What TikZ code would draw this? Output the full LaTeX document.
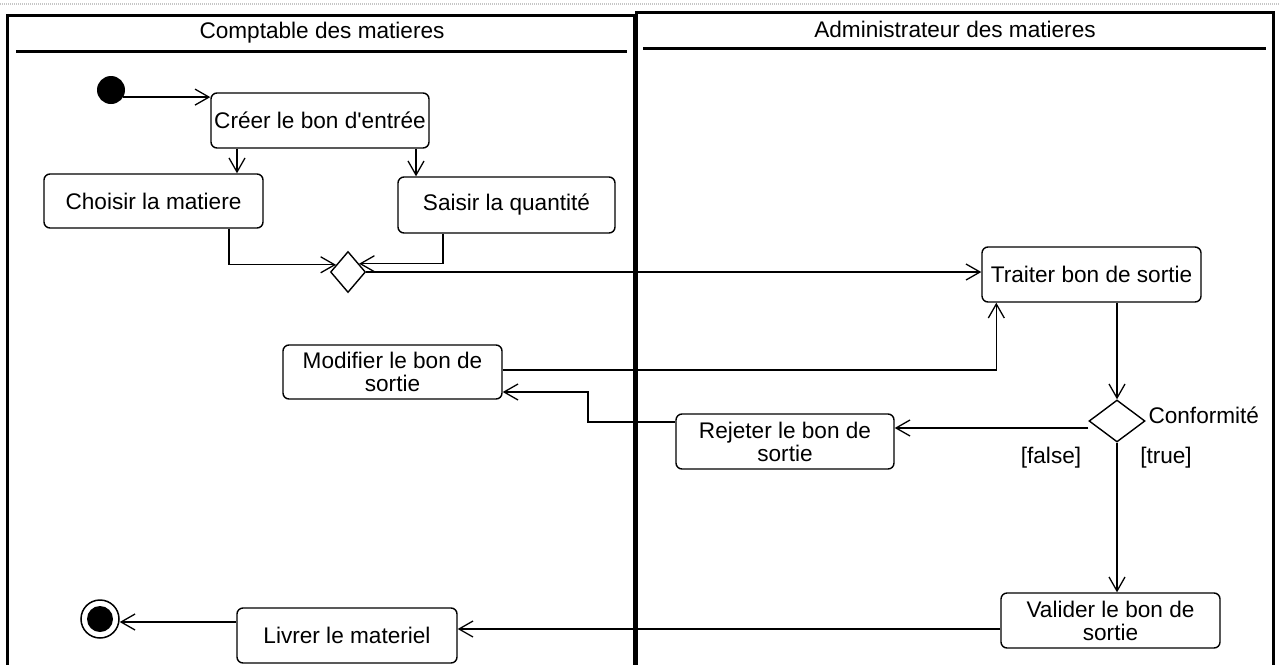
\documentclass[tikz,border=0pt]{standalone}
\usepackage{fontspec}
\newfontfamily\labelfont{Liberation Sans}
\usetikzlibrary{arrows.meta,shapes.geometric,calc}
\begin{document}
\begin{tikzpicture}[x=1pt,y=-1pt,
  font=\labelfont\fontsize{22.6}{23}\selectfont,
  lane/.style={draw,line width=3pt},
  action/.style={draw,line width=1.4pt,rounded corners=6pt,inner sep=0pt,
    minimum width=219pt,minimum height=55pt,align=center},
  branch/.style={draw,diamond,line width=1.4pt,inner sep=0pt},
  flow/.style={draw,line width=1.3pt,
    -{Straight Barb[length=14pt,width=16pt,line width=1.3pt]}},
  startdot/.style={circle,fill=black,inner sep=0pt,minimum size=28pt},
  endring/.style={circle,draw,line width=1.5pt,inner sep=0pt,minimum size=38pt},
  enddot/.style={circle,fill=black,inner sep=0pt,minimum size=26pt}]
\useasboundingbox (0,0) rectangle (1279,664);

% window edge
\draw[gray!45,line width=1.5pt,dash pattern=on 1pt off 1pt] (0,4) -- (1279,4);

% swimlanes
\draw[lane] (7,668) -- (7,15) -- (634,15) -- (634,668);
\draw[lane] (16,51) -- (627,51);
\node (laneA) at (322,33) {Comptable des matieres};
\draw[lane] (636,668) -- (636,12) -- (1273,12) -- (1273,668);
\draw[lane] (643,48) -- (1266,48);
\node (laneB) at (955,29) {Administrateur des matieres};

% activities
\node[startdot] (init) at (111,90) {};
\node[action,minimum width=218pt] (cree) at (320,120.5) {Créer le bon d'entrée};
\node[action,minimum height=54pt] (choisir) at (153.5,201) {Choisir la matiere};
\node[action,minimum width=217pt,minimum height=56pt] (saisir) at (506.5,205) {Saisir la quantité};
\node[branch,minimum width=35pt,minimum height=41pt] (merge) at (348,272) {};
\node[action] (traiter) at (1091.5,274.5) {Traiter bon de sortie};
\node[action,minimum height=54pt] (modifier) at (392.5,372) {Modifier le bon de\\sortie};
\node[branch,minimum width=56pt,minimum height=42pt] (conf) at (1117,421) {};
\node[anchor=west] (conflabel) at (1145,415) {Conformité};
\node (lfalse) at (1051,458) {[false]};
\node (ltrue) at (1166,458) {[true]};
\node[action,minimum width=218pt] (rejeter) at (785,441.5) {Rejeter le bon de\\sortie};
\node[action] (valider) at (1110.5,620.5) {Valider le bon de\\sortie};
\node[action,minimum width=220pt] (livrer) at (347,635.5) {Livrer le materiel};
\node[endring] (final) at (100,619) {};
\node[enddot] (finaldot) at (final) {};

% control flow
\draw[flow] (init.-30) -- (init.-30 -| cree.west);
\draw[flow] ([xshift=-83pt]cree.south) -- ([xshift=-83pt]cree.south |- choisir.north);
\draw[flow] ([xshift=96pt]cree.south) -- ([xshift=96pt]cree.south |- saisir.north);
\draw[flow] ([xshift=75.5pt]choisir.south) |- ($(merge.west)!0.34!(merge.north)$);
\draw[flow] ([xshift=-63.5pt]saisir.south) |- ($(merge.east)!0.39!(merge.north)$);
\draw[flow] (merge.east) -- (merge.east -| traiter.west);
\draw[flow] ([yshift=2pt]modifier.east) -| ([xshift=15pt]traiter.south west);
\draw[flow] (conf.north |- traiter.south) -- (conf.north);
\draw[flow] ([yshift=-7pt]conf.west) -- ([yshift=-7pt]conf.west -| rejeter.east);
\draw[flow] ([yshift=19.5pt]rejeter.west) -| (588,392) -- ([yshift=-20pt]modifier.east);
\draw[flow] (conf.south) -- (conf.south |- valider.north);
\draw[flow] ([yshift=-8.5pt]valider.west) -- ([yshift=-8.5pt]valider.west -| livrer.east);
\draw[flow] ([yshift=13.5pt]livrer.west) -- ([yshift=13.5pt]livrer.west -| final.east);
\end{tikzpicture}
\end{document}
